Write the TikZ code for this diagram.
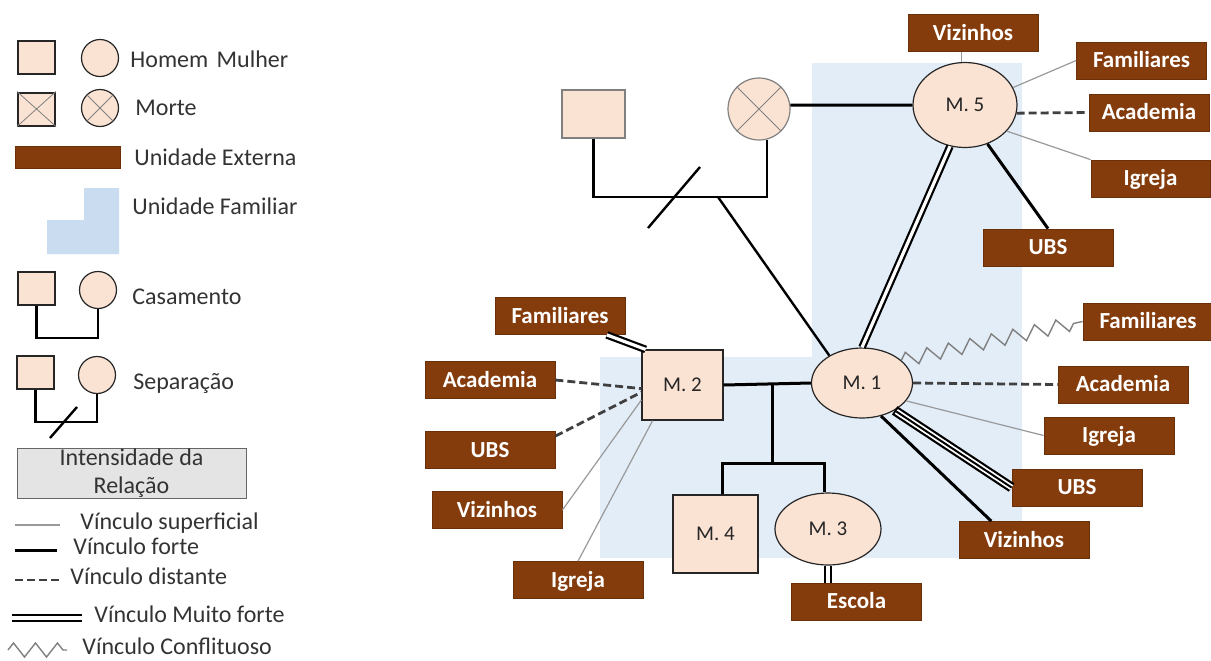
\documentclass[tikz,border=0pt]{standalone}
\usepackage{fontspec}
\setmainfont{Carlito}
\usetikzlibrary{shapes.geometric,decorations.pathmorphing}
\definecolor{extbrown}{HTML}{843C0C}
\definecolor{skin}{HTML}{FBE3D4}
\definecolor{famblue}{HTML}{E3EDF8}
\definecolor{legblue}{HTML}{CADCF0}
\definecolor{boxgray}{HTML}{E4E4E4}

\begin{document}
\begin{tikzpicture}[x=0.5pt, y=-0.5pt]
    \tikzset{%
     every person/.style={
        draw=black!85,
        fill=skin,
        line width=0.6pt,
        inner sep=0pt,
        text=black!85,
        font=\fontsize{10.5}{12}\selectfont},
     man/.style={rectangle},
     woman/.style={ellipse},
     unit/.style={
        rectangle,
        fill=extbrown,
        draw=extbrown!80!black,
        text=white,
        minimum width=65pt,
        minimum height=18.5pt,
        inner sep=0pt,
        text height=8.5pt,
        text depth=1.5pt,
        font=\fontsize{11.5}{13}\selectfont\bfseries},
     legend text/.style={
        anchor=west,
        inner sep=0pt,
        text height=9pt,
        text depth=1.5pt,
        text=black!80,
        font=\fontsize{12}{14}\selectfont},
     superficial/.style={draw=gray!80, line width=0.6pt},
     forte/.style={draw=black, line width=1.5pt},
     distante/.style={draw=black!75, line width=1.4pt, dash pattern=on 4pt off 2pt},
     muitoforte/.style={draw=black, line width=1.1pt, double=white, double distance=1.6pt},
     conflituoso/.style={draw=gray, line width=0.7pt, decorate,
        decoration={zigzag, segment length=11pt, amplitude=3.5pt}},
    }

    \useasboundingbox (0,0) rectangle (1211,660);

    % unidade familiar
    \fill[famblue] (600,357) -- (812,357) -- (812,63) -- (1022,63)
        -- (1022,558) -- (600,558) -- cycle;

    % ---------------- legenda ----------------
    \node [every person, man, line width=1pt, minimum width=18.5pt, minimum height=16.5pt] (leg-homem) at (36.5,57.5) {};
    \node [every person, woman, minimum size=18.5pt] (leg-mulher) at (100,58) {};
    \node [legend text] (leg-homem-txt) at (130,60) {Homem\hspace{0.35em}Mulher};

    \node [every person, man, line width=1pt, minimum width=18.5pt, minimum height=16.5pt] (leg-morte-h) at (36.5,109) {};
    \node [every person, woman, minimum size=18.5pt] (leg-morte-m) at (100,108) {};
    \draw [gray] (leg-morte-h.north west) -- (leg-morte-h.south east)
        (leg-morte-h.south west) -- (leg-morte-h.north east);
    \draw [gray] (leg-morte-m.45) -- (leg-morte-m.225)
        (leg-morte-m.135) -- (leg-morte-m.315);
    \node [legend text] (leg-morte-txt) at (135,108) {Morte};

    \node [unit, minimum width=52.5pt, minimum height=11pt] (leg-ext) at (67.5,157) {};
    \node [legend text] (leg-ext-txt) at (134,158) {Unidade Externa};

    \fill[legblue] (47,220) -- (84,220) -- (84,188) -- (119,188) -- (119,254) -- (47,254) -- cycle;
    \node [legend text] (leg-fam-txt) at (132,207) {Unidade Familiar};

    \node [every person, man, line width=1pt, minimum width=18.5pt, minimum height=16.5pt] (leg-cas-h) at (36.5,288.5) {};
    \node [every person, woman, minimum size=18.5pt] (leg-cas-m) at (98,290) {};
    \draw [forte, line width=1.2pt] (leg-cas-h.south) -- ++(0,32) -| (leg-cas-m.south);
    \node [legend text] (leg-cas-txt) at (132,297) {Casamento};

    \node [every person, man, line width=1pt, minimum width=18.5pt, minimum height=16.5pt] (leg-sep-h) at (35.5,372.5) {};
    \node [every person, woman, minimum size=18.5pt] (leg-sep-m) at (97,375) {};
    \draw [forte, line width=1.2pt] (leg-sep-h.south) -- ++(0,32) -| (leg-sep-m.south);
    \coordinate (leg-corte-a) at (50,438);
    \coordinate (leg-corte-b) at (77,407);
    \draw [forte, line width=1.2pt] (leg-corte-a) -- (leg-corte-b);
    \node [legend text] (leg-sep-txt) at (133,382) {Separação};

    \node [draw=black!60, fill=boxgray, minimum width=114.5pt, minimum height=25pt,
        inner sep=0pt, align=center, text=black!80, font=\fontsize{12}{14}\selectfont]
        (leg-int) at (131.5,473) {Intensidade da\\Relação};

    \foreach \s/\t/\y/\xa/\xb/\xt in {superficial/Vínculo superficial/525/15/60/80,
        forte/Vínculo forte/550/15/57/73,
        distante/Vínculo distante/580/15/60/70,
        muitoforte/Vínculo Muito forte/618/12/82/94,
        conflituoso/Vínculo Conflituoso/650/8/67/82}
    {
        \coordinate (leg-\s-a) at (\xa,\y);
        \coordinate (leg-\s-b) at (\xb,\y);
        \draw [\s] (leg-\s-a) -- (leg-\s-b);
        \node [legend text] (leg-\s-txt) at (\xt,\y-3) {\t};
    }

    % ---------------- genograma ----------------
    \node [every person, man, draw=gray, minimum width=31.5pt, minimum height=24pt] (avo) at (593.5,114) {};
    \node [every person, woman, draw=gray, minimum size=31pt] (avo-f) at (759,109) {};
    \draw [gray] (avo-f.45) -- (avo-f.225) (avo-f.135) -- (avo-f.315);

    \node [every person, woman, minimum width=52pt, minimum height=42.5pt] (m5) at (965,105) {M. 5};
    \node [every person, woman, minimum width=50.5pt, minimum height=35pt] (m1) at (862,383) {M. 1};
    \node [every person, man, minimum width=40.5pt, minimum height=35pt] (m2) at (682.5,385) {M. 2};
    \node [every person, man, minimum width=42.5pt, minimum height=39pt] (m4) at (715.5,534) {M. 4};
    \node [every person, woman, minimum width=53pt, minimum height=36pt] (m3) at (828,529) {M. 3};

    % unidades externas
    \node [unit] (viz5) at (973,33) {Vizinhos};
    \node [unit] (fam5) at (1141.5,60.5) {Familiares};
    \node [unit, minimum width=60pt] (aca5) at (1149,112.5) {Academia};
    \node [unit, minimum width=59.5pt] (igr5) at (1150.5,178.5) {Igreja};
    \node [unit] (ubs5) at (1048,247.5) {UBS};

    \node [unit] (fam1) at (1148,321.5) {Familiares};
    \node [unit] (aca1) at (1123,384.5) {Academia};
    \node [unit] (igr1) at (1109,435.5) {Igreja};
    \node [unit] (ubs1) at (1077,487.5) {UBS};
    \node [unit] (viz1) at (1024,540) {Vizinhos};

    \node [unit] (fam2) at (560,316) {Familiares};
    \node [unit] (aca2) at (490,380) {Academia};
    \node [unit] (ubs2) at (490,450) {UBS};
    \node [unit] (viz2) at (497,510) {Vizinhos};
    \node [unit] (igr2) at (578,580) {Igreja};

    \node [unit] (escola) at (856.5,601.5) {Escola};

    % casamento dos avos
    \coordinate (uniao) at (718,197);
    \draw [forte, line width=1.2pt] (avo.south) |- (uniao) -| (avo-f.-75);
    \coordinate (corte-a) at (648,228);
    \coordinate (corte-b) at (700,167);
    \draw [forte, line width=1.2pt] (corte-a) -- (corte-b);
    \draw [forte, line width=1.2pt] (uniao) -- (m1.140);
    \draw [forte] (avo-f.7) -- (m5.west);

    % casamento M.2 e M.1, filhos
    \draw [forte] (m2.east) -- (m1.west);
    \coordinate (filhos) at (772,384);
    \coordinate (irmaos) at (772,463);
    \draw [forte] (filhos) -- (irmaos);
    \draw [forte] (m4.80) |- (irmaos) -| (m3.95);

    % vinculos de M.5
    \draw [superficial] (m5.95) -- (m5.95 |- viz5.south);
    \draw [superficial] (m5.20) -- (fam5.west);
    \draw [distante] (m5.-9) -- (aca5.west);
    \draw [superficial] (m5.-32) -- (igr5.north west);
    \draw [forte] (m5.-60) -- (ubs5.north);
    \draw [muitoforte] (m5.250) -- (m1.north);

    % vinculos de M.1
    \draw [conflituoso] (m1.30) -- (fam1.west);
    \draw [distante] (m1.east) -- (aca1.west);
    \draw [superficial] (m1.-22) -- (igr1.west);
    \draw [black, line width=5pt] (m1.-40) -- (ubs1.west);
    \draw [white, line width=2.8pt, shorten <=1pt] (m1.-40) -- (ubs1.west);
    \draw [black, line width=1pt, shorten <=1pt] (m1.-40) -- (ubs1.west);
    \draw [forte] (m1.-60) -- (viz1.150);

    % vinculos de M.2
    \draw [muitoforte] (fam2.-22) -- (m2.136);
    \draw [distante] (aca2.east) -- (m2.185);
    \draw [distante] (ubs2.12) -- (m2.190);
    \draw [superficial] (viz2.east) -- (m2.200);
    \draw [superficial] (igr2.north) -- (m2.230);

    % vinculo de M.3
    \draw [muitoforte] (m3.south) -- (m3.south |- escola.north);
\end{tikzpicture}
\end{document}
